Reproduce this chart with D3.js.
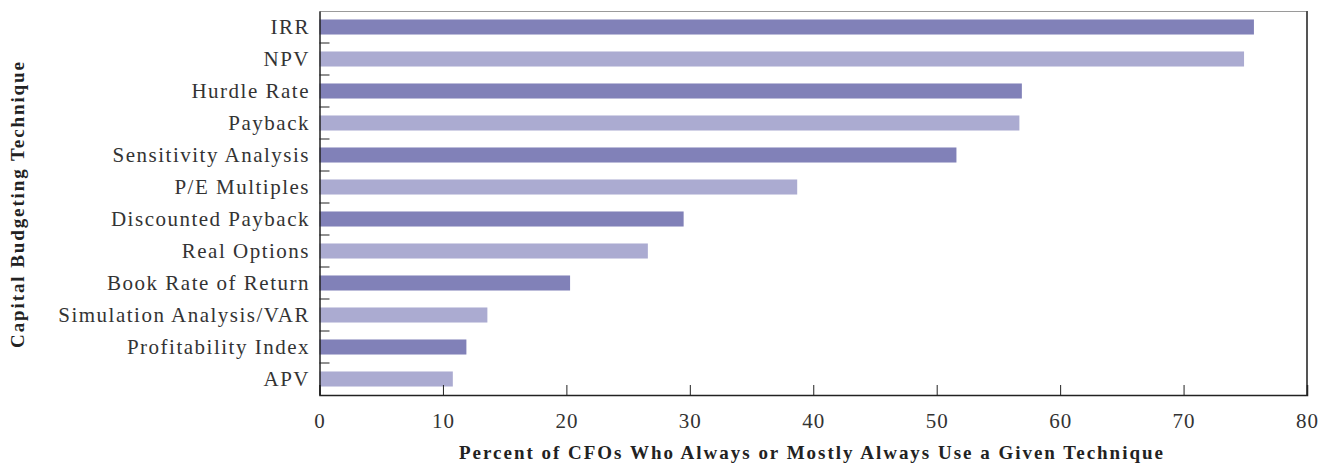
<!DOCTYPE html>
<html><head><meta charset="utf-8">
<script src="https://cdn.jsdelivr.net/npm/d3@7"></script>
<style>body{margin:0;background:#fff}svg{display:block}</style>
</head><body>
<svg id="c" width="1319" height="465"></svg>
<script>
const categories = ["IRR","NPV","Hurdle Rate","Payback","Sensitivity Analysis","P/E Multiples","Discounted Payback","Real Options","Book Rate of Return","Simulation Analysis/VAR","Profitability Index","APV"];
const values = [75.7,74.9,56.9,56.7,51.6,38.7,29.5,26.6,20.3,13.6,11.9,10.8];
const xTicks = [0,10,20,30,40,50,60,70,80];
const xTitle = "Percent of CFOs Who Always or Mostly Always Use a Given Technique";
const yTitle = "Capital Budgeting Technique";

const svg = d3.select("#c");
const L = 319.5, R = 1307, T = 11, B = 395;
const font = "'Liberation Serif', 'DejaVu Serif', serif";
const x = d3.scaleLinear().domain([0,80]).range([L,R]);
const y = d3.scaleBand().domain(categories).range([T,B]).paddingInner(0.53).paddingOuter(0.265);
const yb = d3.scaleBand().domain(categories).range([T,B]);

// frame top & right
svg.append("line").attr("x1",L).attr("x2",R).attr("y1",T+0.5).attr("y2",T+0.5).attr("stroke","#9a9a9a").attr("stroke-width",1);
svg.append("line").attr("x1",R).attr("x2",R).attr("y1",T).attr("y2",B).attr("stroke","#555").attr("stroke-width",2);

svg.selectAll("rect.bar").data(values).enter().append("rect")
  .attr("x",x(0)).attr("y",(d,i)=>y(categories[i]))
  .attr("width",d=>x(d)-x(0)).attr("height",y.bandwidth())
  .attr("fill",(d,i)=>i%2===0?"#8181b8":"#ababd1");

// x axis
const xa = svg.append("g").attr("transform",`translate(0,${B})`)
  .call(d3.axisBottom(x).tickValues(xTicks).tickSize(-10).tickPadding(18).tickFormat(d3.format("d")));
xa.select(".domain").attr("stroke","#222").attr("stroke-width",1.5);
xa.selectAll(".tick line").attr("stroke","#222");
xa.selectAll("text").attr("font-family",font).attr("font-size",21).attr("letter-spacing",1).attr("fill","#333");

// y axis: ticks at band boundaries
const ya = svg.append("g").attr("transform",`translate(${L},0)`)
  .call(d3.axisLeft(y).tickSize(0).tickPadding(9.5));
ya.select(".domain").attr("stroke","#222").attr("stroke-width",1.5);
ya.selectAll("text").attr("font-family",font).attr("font-size",21).attr("letter-spacing",1.5).attr("fill","#333");
svg.selectAll("line.yt").data(categories.slice(1)).enter().append("line")
  .attr("x1",L).attr("x2",L+10).attr("y1",d=>yb(d)).attr("y2",d=>yb(d)).attr("stroke","#222");

svg.append("text").attr("x",811).attr("y",459).attr("text-anchor","middle")
  .attr("font-family",font).attr("font-size",19).attr("font-weight","bold").attr("fill","#222")
  .attr("textLength",704).attr("lengthAdjust","spacing").text(xTitle);
svg.append("text").attr("transform","translate(24,205) rotate(-90)").attr("text-anchor","middle")
  .attr("font-family",font).attr("font-size",19).attr("font-weight","bold").attr("fill","#222")
  .attr("textLength",286).attr("lengthAdjust","spacing").text(yTitle);
</script>
</body></html>
